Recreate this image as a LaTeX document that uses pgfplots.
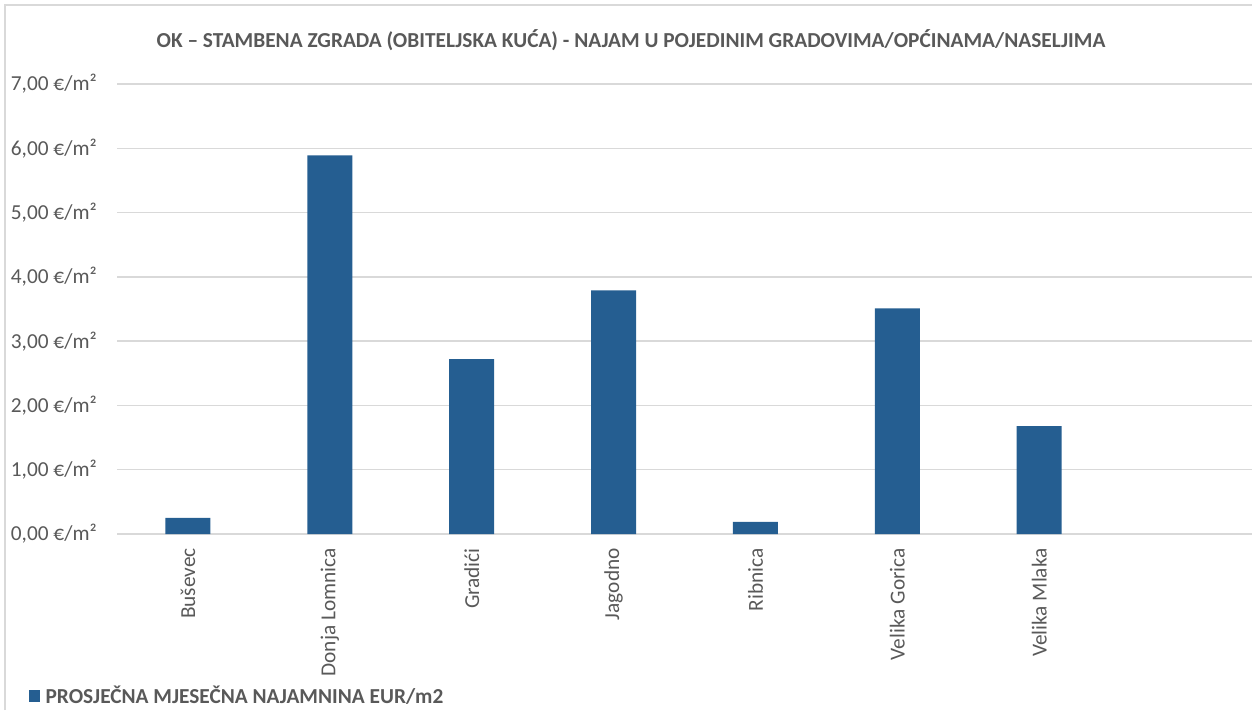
\documentclass[border=0pt]{standalone}
\usepackage{pgfplots}
\pgfplotsset{compat=1.18}
\usepackage{fontspec}
\setmainfont{Carlito}
\definecolor{barblue}{HTML}{255E91}
\definecolor{txtgray}{HTML}{595959}
\definecolor{gridgray}{HTML}{D9D9D9}
\begin{document}
\fontsize{16pt}{19pt}\selectfont
\begin{tikzpicture}[x=1pt,y=1pt]
\useasboundingbox (0,0) rectangle (939,532.5);
\draw[gridgray, line width=1pt] (3.75,0) -- (3.75,528.75) -- (939,528.75);
\begin{axis}[
  at={(87.75pt,132pt)}, anchor=south west,
  scale only axis, width=851.25pt, height=337.5pt,
  xmin=-0.5, xmax=7.5, ymin=0, ymax=7,
  ybar, bar width=33.75pt,
  xtick={0,1,2,3,4,5,6},
  xticklabels={Buševec, Donja Lomnica, Gradići, Jagodno, Ribnica, Velika Gorica, Velika Mlaka},
  ytick={0,1,2,3,4,5,6,7},
  /pgf/number format/assume math mode=true,
  yticklabel={\pgfmathprintnumber[fixed,fixed zerofill,precision=2,use comma]{\tick} €/m²},
  tick label style={font=\fontsize{16pt}{19pt}\selectfont, text=txtgray},
  xticklabel style={rotate=90, anchor=east, inner sep=0pt},
  yticklabel style={anchor=east, inner sep=0pt},
  xticklabel shift=10.5pt,
  yticklabel shift=15pt,
  tick style={draw=none},
  major tick length=0pt,
  axis line style={draw=none},
  ymajorgrids, grid style={gridgray, line width=1.1pt},
  legend style={at={(axis description cs:-0.0775,-0.36)}, anchor=west, draw=none, fill=none,
    font=\bfseries\fontsize{16pt}{19pt}\selectfont, text=txtgray, inner sep=0pt,
    nodes={inner sep=0pt},
    /tikz/every odd column/.append style={column sep=4pt}},
  legend image code/.code={\fill[barblue] (0pt,-4.5pt) rectangle (8.25pt,4.5pt);},
]
\addplot[fill=barblue, draw=none] coordinates {(0,0.25) (1,5.89) (2,2.72) (3,3.79) (4,0.19) (5,3.51) (6,1.68)};
\addlegendentry{PROSJEČNA MJESEČNA NAJAMNINA EUR/m2}
\end{axis}
\node[font=\bfseries\fontsize{16pt}{19pt}\selectfont, text=txtgray] at (473.25,502.5) {OK – STAMBENA ZGRADA (OBITELJSKA KUĆA) - NAJAM U POJEDINIM GRADOVIMA/OPĆINAMA/NASELJIMA};
\end{tikzpicture}
\end{document}
